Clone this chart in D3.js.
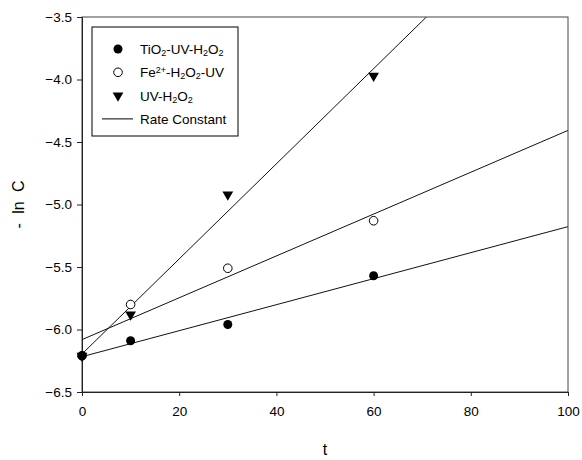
<!DOCTYPE html>
<html>
<head>
<meta charset="utf-8">
<script src="https://cdn.jsdelivr.net/npm/d3@7"></script>
<style>
  body { margin: 0; background: #fff; }
  text { font-family: "Liberation Sans", Arial, sans-serif; fill: #000; }
</style>
</head>
<body>
<svg id="chart"></svg>
<script>
// data
const times = [0, 10, 30, 60];
const tio2 = [-6.21, -6.09, -5.96, -5.57];
const fenton = [-6.21, -5.80, -5.51, -5.13];
const uvOnly = [-6.21, -5.88, -4.92, -3.97];
const xTicks = [0, 20, 40, 60, 80, 100];
const yTicks = [-3.5, -4.0, -4.5, -5.0, -5.5, -6.0, -6.5];

const width = 582, height = 460;
const margin = {top: 17, right: 14, bottom: 68, left: 82};

const svg = d3.select("#chart")
  .attr("width", width)
  .attr("height", height);

const x = d3.scaleLinear().domain([0, 100]).range([margin.left, width - margin.right]);
const y = d3.scaleLinear().domain([-6.5, -3.5]).range([height - margin.bottom, margin.top]);

// clip for fit lines
svg.append("clipPath").attr("id", "plot")
  .append("rect")
  .attr("x", x(0)).attr("y", y(-3.5))
  .attr("width", x(100) - x(0)).attr("height", y(-6.5) - y(-3.5));

// least squares fit -> rate constant line
function fit(ys) {
  const mx = d3.mean(times), my = d3.mean(ys);
  let sxy = 0, sxx = 0;
  times.forEach((t, i) => { sxy += (t - mx) * (ys[i] - my); sxx += (t - mx) * (t - mx); });
  const k = sxy / sxx;
  return {k: k, b: my - k * mx};
}

const series = [
  {name: "tio2", vals: tio2, shape: "fill"},
  {name: "fenton", vals: fenton, shape: "open"},
  {name: "uv", vals: uvOnly, shape: "tri"}
];

const lineG = svg.append("g").attr("clip-path", "url(#plot)");
series.forEach(s => {
  const f = fit(s.vals);
  lineG.append("line")
    .attr("x1", x(0)).attr("y1", y(f.b))
    .attr("x2", x(100)).attr("y2", y(f.b + f.k * 100))
    .attr("stroke", "#111").attr("stroke-width", 1);
});

// frame
svg.append("rect")
  .attr("x", x(0)).attr("y", y(-3.5))
  .attr("width", x(100) - x(0)).attr("height", y(-6.5) - y(-3.5))
  .attr("fill", "none").attr("stroke", "#444").attr("stroke-width", 1);

// axes
const xAxis = svg.append("g")
  .attr("transform", "translate(0," + y(-6.5) + ")")
  .call(d3.axisBottom(x).tickValues(xTicks).tickSize(4).tickPadding(10).tickFormat(d3.format("d")));
const yAxis = svg.append("g")
  .attr("transform", "translate(" + x(0) + ",0)")
  .call(d3.axisLeft(y).tickValues(yTicks).tickSize(5).tickPadding(5).tickFormat(d3.format(".1f")));
[xAxis, yAxis].forEach(a => {
  a.select(".domain").attr("stroke", "#222");
  a.selectAll(".tick line").attr("stroke", "#222");
  a.selectAll(".tick text").style("font-size", "13.5px").attr("fill", "#000");
});

// axis titles
svg.append("text")
  .attr("x", x(50)).attr("y", 455)
  .attr("text-anchor", "middle").style("font-size", "16px")
  .text("t");
svg.append("text")
  .attr("transform", "translate(24," + y(-5.0) + ") rotate(-90)")
  .attr("text-anchor", "middle").style("font-size", "16px")
  .style("word-spacing", "5px")
  .text("- ln C");

// markers
const tri = d3.symbol().type(d3.symbolTriangle).size(50);
function drawMarker(g, shape, cx, cy) {
  if (shape === "fill") {
    g.append("circle").attr("cx", cx).attr("cy", cy).attr("r", 4.5).attr("fill", "#000");
  } else if (shape === "open") {
    g.append("circle").attr("cx", cx).attr("cy", cy).attr("r", 4.3)
      .attr("fill", "#fff").attr("stroke", "#000").attr("stroke-width", 1);
  } else {
    g.append("path").attr("d", tri())
      .attr("transform", "translate(" + cx + "," + cy + ") rotate(180)")
      .attr("fill", "#000");
  }
}
const ptG = svg.append("g");
[series[2], series[1], series[0]].forEach(s => {
  s.vals.forEach((v, i) => drawMarker(ptG, s.shape, x(times[i]), y(v)));
});

// legend
const lg = svg.append("g").attr("transform", "translate(92,27)");
lg.append("rect").attr("width", 146).attr("height", 109)
  .attr("fill", "#fff").attr("stroke", "#000").attr("stroke-width", 1);
const rows = [
  {shape: "fill", label: [["TiO", 0], ["2", 1], ["-UV-H", 0], ["2", 1], ["O", 0], ["2", 1]]},
  {shape: "open", label: [["Fe", 0], ["2+", 2], ["-H", 0], ["2", 1], ["O", 0], ["2", 1], ["-UV", 0]]},
  {shape: "tri", label: [["UV-H", 0], ["2", 1], ["O", 0], ["2", 1]]},
  {shape: "line", label: [["Rate Constant", 0]]}
];
rows.forEach((r, i) => {
  const cy = 22 + i * 23.3;
  if (r.shape === "line") {
    lg.append("line").attr("x1", 10).attr("x2", 41).attr("y1", cy).attr("y2", cy)
      .attr("stroke", "#000").attr("stroke-width", 1);
  } else {
    drawMarker(lg, r.shape, 26, cy);
  }
  const t = lg.append("text").attr("x", 48).attr("y", cy + 5).style("font-size", "13.5px");
  r.label.forEach(p => {
    const ts = t.append("tspan").text(p[0]);
    if (p[1] === 1) ts.attr("baseline-shift", "-25%").style("font-size", "9px");
    else if (p[1] === 2) ts.attr("baseline-shift", "45%").style("font-size", "9px");
  });
});
</script>
</body>
</html>
